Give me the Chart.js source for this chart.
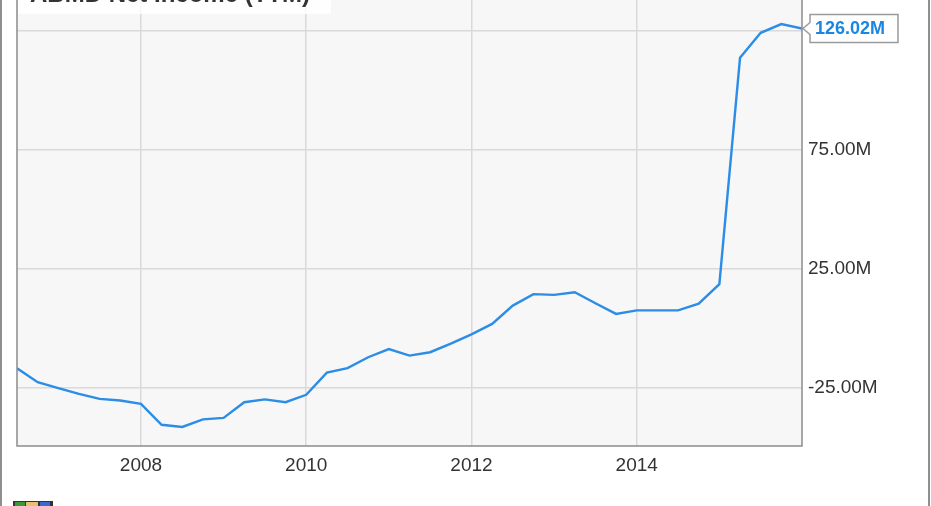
<!DOCTYPE html>
<html>
<head>
<meta charset="utf-8">
<script src="https://cdn.jsdelivr.net/npm/chart.js@4"></script>
<style>
  html, body { margin: 0; padding: 0; background: #fff; overflow: hidden; }
  #wrap { position: absolute; left: 0; top: -30px; width: 931px; height: 536px; }
</style>
</head>
<body>
<div id="wrap"><canvas id="incomeChart"></canvas></div>
<script>
// ABMD net income (TTM), quarterly, in millions
const quarters = [
    2006.5, 2006.75, 2007.0, 2007.25, 2007.5, 2007.75,
    2008.0, 2008.25, 2008.5, 2008.75, 2009.0, 2009.25, 2009.5, 2009.75,
    2010.0, 2010.25, 2010.5, 2010.75, 2011.0, 2011.25, 2011.5, 2011.75,
    2012.0, 2012.25, 2012.5, 2012.75, 2013.0, 2013.25, 2013.5, 2013.75,
    2014.0, 2014.25, 2014.5, 2014.75, 2015.0, 2015.25, 2015.5, 2015.75,
    2016.0
];
const netIncome = [
    -16.7, -22.6, -25.1, -27.5, -29.6, -30.3,
    -31.7, -40.5, -41.4, -38.2, -37.6, -31.0, -29.8, -31.0,
    -27.9, -18.6, -16.7, -12.1, -8.7, -11.4, -10.0, -6.4,
    -2.5, 1.9, 9.6, 14.4, 14.1, 15.2, 10.6, 6.1,
    7.6, 7.6, 7.6, 10.4, 18.6, 113.7, 124.2, 127.9,
    126.02
];
const yearTicks = [2008, 2010, 2012, 2014];
const valueTicks = [-25, 25, 75, 125];
const lastLabel = '126.02M';
const title = 'ABMD Net Income (TTM)';

const FONT = '"Liberation Sans", Arial, sans-serif';

const decor = {
    id: 'decor',
    beforeDraw(chart) {
        const { ctx, chartArea: a } = chart;
        ctx.save();
        ctx.fillStyle = '#f7f7f7';
        ctx.fillRect(a.left, a.top - 30, a.right - a.left, a.bottom - a.top + 30);
        ctx.restore();
    },
    afterDraw(chart) {
        const { ctx, chartArea: a, scales } = chart;
        ctx.save();
        // title box (cut off at top)
        ctx.fillStyle = 'rgba(255,255,255,0.8)';
        ctx.fillRect(a.left + 1, 0, 313, a.top + 14);
        ctx.fillStyle = '#333';
        ctx.font = 'bold 24px ' + FONT;
        ctx.textBaseline = 'alphabetic';
        ctx.fillText(title, 30, a.top + 2);

        // plot border
        ctx.strokeStyle = '#8c8c8c';
        ctx.lineWidth = 1.5;
        ctx.beginPath();
        ctx.moveTo(a.left, 0);
        ctx.lineTo(a.left, a.bottom);
        ctx.lineTo(a.right, a.bottom);
        ctx.lineTo(a.right, 0);
        ctx.stroke();

        // outer frame
        ctx.fillStyle = '#8f8f8f';
        ctx.fillRect(0, 0, 2, chart.height);
        ctx.fillRect(928, 0, 2, chart.height);

        // last value callout
        const tx = scales.x.getPixelForValue(quarters[quarters.length - 1]);
        const ty = scales.y.getPixelForValue(netIncome[netIncome.length - 1]);
        const bx = tx + 8, bw = 88, bh = 28, by = ty - bh / 2;
        ctx.beginPath();
        ctx.moveTo(bx, by);
        ctx.lineTo(bx + bw, by);
        ctx.lineTo(bx + bw, by + bh);
        ctx.lineTo(bx, by + bh);
        ctx.lineTo(bx, ty + 6);
        ctx.lineTo(tx + 1, ty);
        ctx.lineTo(bx, ty - 6);
        ctx.closePath();
        ctx.fillStyle = '#fff';
        ctx.fill();
        ctx.strokeStyle = '#9a9a9a';
        ctx.lineWidth = 1.5;
        ctx.stroke();
        ctx.fillStyle = '#1a86e0';
        ctx.font = 'bold 18px ' + FONT;
        ctx.textBaseline = 'middle';
        ctx.fillText(lastLabel, bx + 5, ty + 1);

        // small logo at bottom left
        const ly = chart.height - 5;
        ctx.fillStyle = '#333';
        ctx.fillRect(13, ly, 40, 5);
        ctx.fillStyle = '#3a9a3a';
        ctx.fillRect(15, ly + 1, 10, 4);
        ctx.fillStyle = '#e8c070';
        ctx.fillRect(26, ly + 1, 12, 4);
        ctx.fillStyle = '#3a6ad0';
        ctx.fillRect(40, ly + 1, 10, 4);
        ctx.restore();
    }
};

new Chart(document.getElementById('incomeChart'), {
    type: 'line',
    data: {
        datasets: [{
            data: quarters.map((q, i) => ({ x: q, y: netIncome[i] })),
            borderColor: '#2b8de6',
            borderWidth: 2.4,
            pointRadius: 0,
            tension: 0,
            fill: false
        }]
    },
    options: {
        responsive: true,
        maintainAspectRatio: false,
        animation: false,
        layout: { padding: { left: 17, top: 30, right: 0, bottom: 0 } },
        plugins: { legend: { display: false }, tooltip: { enabled: false } },
        scales: {
            x: {
                type: 'linear',
                min: 2006.5,
                max: 2016.0,
                afterBuildTicks: s => { s.ticks = yearTicks.map(v => ({ value: v })); },
                afterFit: s => { s.height = 60; s.paddingLeft = 0; s.paddingRight = 0; },
                grid: { color: '#dadada', lineWidth: 1.5, drawTicks: false },
                border: { display: false },
                ticks: {
                    color: '#333',
                    font: { family: FONT, size: 19 },
                    padding: 8,
                    maxRotation: 0,
                    callback: v => String(v)
                }
            },
            y: {
                position: 'right',
                min: -49.4,
                max: 138.0,
                afterBuildTicks: s => { s.ticks = valueTicks.map(v => ({ value: v })); },
                afterFit: s => { s.width = 129; s.paddingTop = 0; s.paddingBottom = 0; },
                grid: { color: '#dadada', lineWidth: 1.5, drawTicks: false },
                border: { display: false },
                ticks: {
                    color: '#333',
                    font: { family: FONT, size: 19 },
                    padding: 6,
                    callback: v => v === 125 ? '' : v.toFixed(2) + 'M'
                }
            }
        }
    },
    plugins: [decor]
});
</script>
</body>
</html>
